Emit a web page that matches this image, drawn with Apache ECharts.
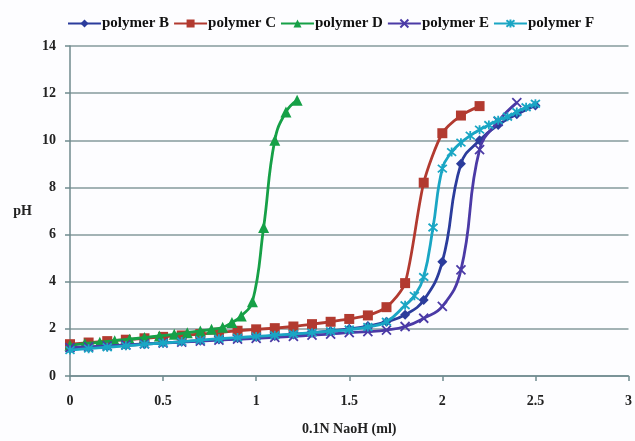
<!DOCTYPE html>
<html><head><meta charset="utf-8">
<script src="https://cdn.jsdelivr.net/npm/echarts@6/dist/echarts.min.js"></script>
<style>html,body{margin:0;padding:0;background:#fff}#c{width:635px;height:441px}</style>
</head><body><div id="c"></div>
<script>
const seriesNames = ['polymer B','polymer C','polymer D','polymer E','polymer F'];
const xTicks = [0,0.5,1,1.5,2,2.5,3];
const yTicks = [0,2,4,6,8,10,12,14];

const bX = [0,0.1,0.2,0.3,0.4,0.5,0.6,0.7,0.8,0.9,1.0,1.1,1.2,1.3,1.4,1.5,1.6,1.7,1.8,1.9,2.0,2.1,2.2,2.3,2.4,2.5];
const bY = [1.15,1.2,1.25,1.3,1.35,1.4,1.45,1.5,1.55,1.6,1.65,1.7,1.76,1.83,1.91,2.0,2.12,2.3,2.6,3.22,4.85,9.0,10.0,10.65,11.1,11.48];

const cX = [0,0.1,0.2,0.3,0.4,0.5,0.6,0.7,0.8,0.9,1.0,1.1,1.2,1.3,1.4,1.5,1.6,1.7,1.8,1.9,2.0,2.1,2.2];
const cY = [1.35,1.42,1.48,1.54,1.6,1.66,1.72,1.78,1.84,1.92,1.98,2.03,2.1,2.2,2.3,2.42,2.57,2.92,3.94,8.2,10.3,11.05,11.45];

const dX = [0,0.08,0.16,0.24,0.32,0.4,0.48,0.56,0.63,0.7,0.76,0.82,0.87,0.92,0.98,1.04,1.1,1.16,1.22];
const dY = [1.3,1.37,1.43,1.5,1.56,1.63,1.7,1.77,1.84,1.91,1.98,2.07,2.27,2.55,3.15,6.3,10.0,11.2,11.7];

const eX = [0,0.1,0.2,0.3,0.4,0.5,0.6,0.7,0.8,0.9,1.0,1.1,1.2,1.3,1.4,1.5,1.6,1.7,1.8,1.9,2.0,2.1,2.2,2.3,2.4];
const eY = [1.2,1.24,1.28,1.32,1.36,1.4,1.44,1.48,1.52,1.56,1.6,1.64,1.68,1.73,1.78,1.84,1.88,1.95,2.1,2.45,2.95,4.5,9.6,10.8,11.6];

const fX = [0,0.1,0.2,0.3,0.4,0.5,0.6,0.7,0.8,0.9,1.0,1.1,1.2,1.3,1.4,1.5,1.6,1.7,1.8,1.85,1.9,1.95,2.0,2.05,2.1,2.15,2.2,2.25,2.3,2.35,2.4,2.45,2.5];
const fY = [1.1,1.16,1.22,1.28,1.34,1.4,1.46,1.52,1.58,1.63,1.68,1.73,1.78,1.84,1.9,1.97,2.08,2.3,3.0,3.4,4.2,6.3,8.8,9.5,9.9,10.2,10.45,10.65,10.85,11.0,11.2,11.4,11.55];

const colors = ['#2b3c9c','#b23a30','#16a047','#4b3aa6','#1aa6c4'];
const symbols = ['diamond','rect','triangle','path://M0,0L10,10M10,0L0,10','path://M0,0L10,10M10,0L0,10M5,-1L5,11'];
const sizes = [10,10,11,9,9];
const xs = [bX,cX,dX,eX,fX];
const ys = [bY,cY,dY,eY,fY];
const font = '"Liberation Serif","Times New Roman",serif';

const chart = echarts.init(document.getElementById('c'), null, {renderer:'canvas'});
const series = seriesNames.map((n,i)=>({
  name:n, type:'line',
  data: xs[i].map((x,j)=>[x, ys[i][j]]),
  smooth: i===1 ? 0.25 : 0.45,
  symbol: symbols[i], symbolSize: sizes[i],
  lineStyle:{color:colors[i], width:2.8},
  itemStyle:{color:colors[i], borderColor:colors[i], borderWidth: i>=3 ? 1.8 : 0},
  z: 2+i
}));
chart.setOption({
  animation:false,
  backgroundColor:'#fdfdff',
  color: colors,
  legend:{
    top:11, left:62, itemWidth:33, itemHeight:10, itemGap:4,
    data: seriesNames,
    textStyle:{fontFamily:font, fontWeight:'bold', fontSize:15, color:'#111', padding:[0,0,0,-4]}
  },
  grid:{left:70, right:3, top:46, bottom:60, containLabel:false},
  xAxis:{
    type:'value', min:0, max:3, interval:0.5,
    name:'0.1N NaoH (ml)', nameLocation:'middle', nameGap:46,
    nameTextStyle:{fontFamily:font, fontWeight:'bold', fontSize:14, color:'#222'},
    axisLine:{show:true, lineStyle:{color:'#6f8a8e', width:1.5}},
    axisTick:{show:true, length:5, lineStyle:{color:'#6f8a8e', width:1.5}},
    axisLabel:{margin:18, fontFamily:font, fontWeight:'bold', fontSize:14, color:'#222',
      formatter:v=>xTicks.includes(v)?String(v):''},
    splitLine:{show:false}
  },
  yAxis:{
    type:'value', min:0, max:14, interval:2,
    name:'pH', nameLocation:'middle', nameGap:38, nameRotate:0,
    nameTextStyle:{fontFamily:font, fontWeight:'bold', fontSize:14, color:'#222'},
    axisLine:{show:true, lineStyle:{color:'#6f8a8e', width:1.5}},
    axisTick:{show:true, length:5, lineStyle:{color:'#6f8a8e', width:1.5}},
    axisLabel:{margin:14, fontFamily:font, fontWeight:'bold', fontSize:14, color:'#222',
      formatter:v=>yTicks.includes(v)?String(v):''},
    splitLine:{show:true, lineStyle:{color:'#849a9c', width:1.5}}
  },
  series: series
});
</script></body></html>
